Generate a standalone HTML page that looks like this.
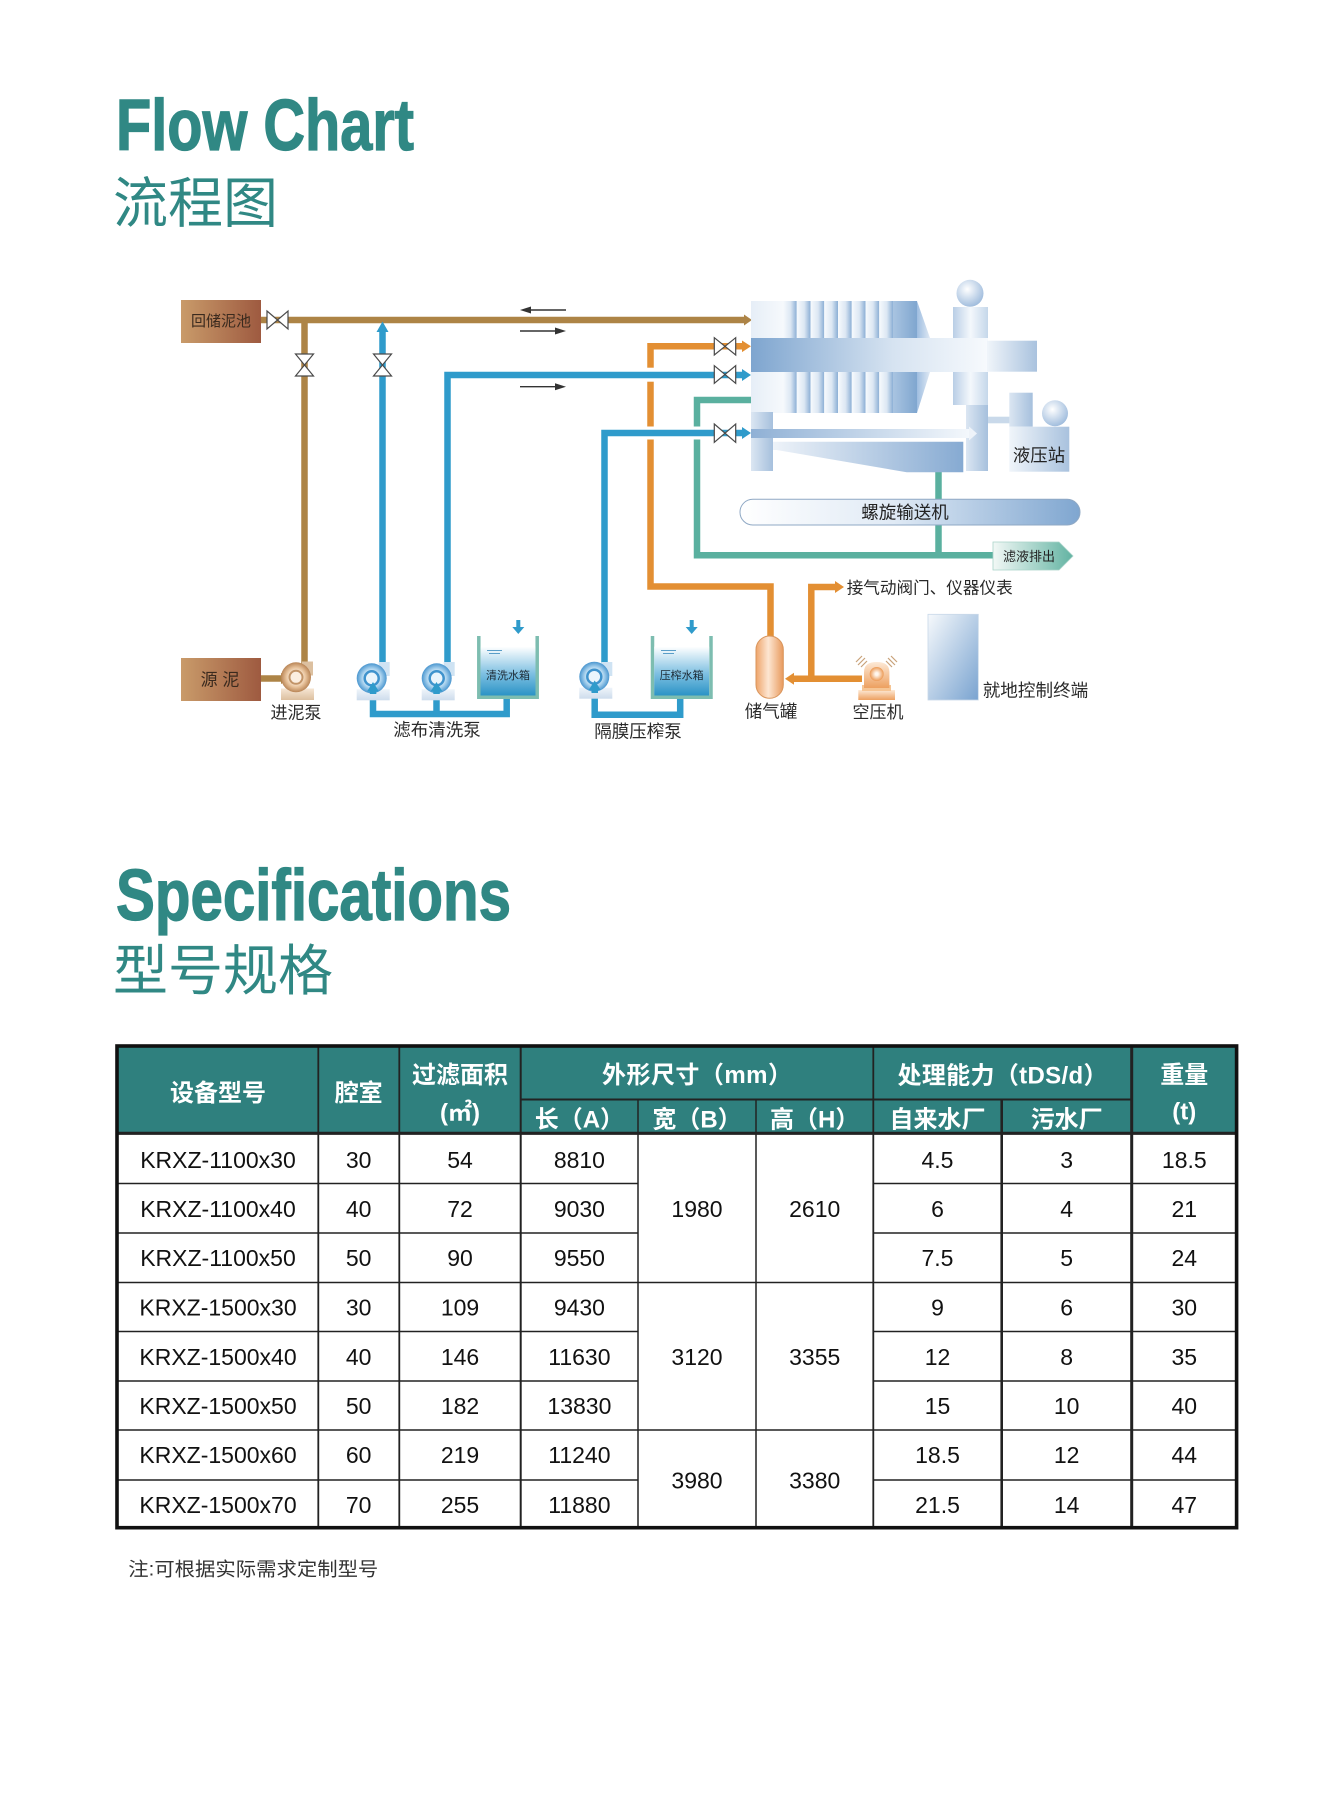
<!DOCTYPE html>
<html><head><meta charset="utf-8">
<style>
html,body{margin:0;padding:0;background:#fff;}
svg{display:block;}
.lat{font-family:"Liberation Sans",sans-serif;}
.cjk{font-family:"Liberation Sans","Noto Sans CJK SC","WenQuanYi Zen Hei",sans-serif;}
</style></head><body>
<svg width="1323" height="1795" viewBox="0 0 1323 1795" xmlns="http://www.w3.org/2000/svg">
<defs>
<linearGradient id="gBrownBox" x1="0" x2="1" y1="0" y2="0"><stop offset="0" stop-color="#c99b6a"/><stop offset="1" stop-color="#9e5a40"/></linearGradient>
<linearGradient id="gPlate" x1="0" x2="1"><stop offset="0" stop-color="#f7fafd"/><stop offset="0.55" stop-color="#dce7f3"/><stop offset="1" stop-color="#8cafd5"/></linearGradient>
<linearGradient id="gHead" x1="0" x2="1"><stop offset="0" stop-color="#e6eef7"/><stop offset="1" stop-color="#f6f9fc"/></linearGradient>
<linearGradient id="gDark" x1="0" x2="1"><stop offset="0" stop-color="#a9c4e1"/><stop offset="1" stop-color="#7fa6cf"/></linearGradient>
<linearGradient id="gSlant" x1="0" x2="1"><stop offset="0" stop-color="#9ebde0"/><stop offset="1" stop-color="#dfe9f4"/></linearGradient>
<linearGradient id="gBeam" x1="0" x2="1"><stop offset="0" stop-color="#7ea5cf"/><stop offset="0.6" stop-color="#d6e3f1"/><stop offset="1" stop-color="#f7fafd"/></linearGradient>
<linearGradient id="gExt" x1="0" x2="1"><stop offset="0" stop-color="#f0f5fa"/><stop offset="1" stop-color="#a9c2de"/></linearGradient>
<linearGradient id="gPillar" x1="0" x2="1"><stop offset="0" stop-color="#b9cee6"/><stop offset="0.5" stop-color="#f4f8fc"/><stop offset="1" stop-color="#c5d7ea"/></linearGradient>
<linearGradient id="gLeg" x1="0" x2="1"><stop offset="0" stop-color="#dbe6f2"/><stop offset="1" stop-color="#a6c0dd"/></linearGradient>
<radialGradient id="gBall" cx="0.4" cy="0.35" r="0.7"><stop offset="0" stop-color="#ffffff"/><stop offset="1" stop-color="#9bb9db"/></radialGradient>
<linearGradient id="gTray" x1="0" x2="1"><stop offset="0" stop-color="#eef3f9"/><stop offset="1" stop-color="#86aad2"/></linearGradient>
<linearGradient id="gFeed" x1="0" x2="1"><stop offset="0" stop-color="#8fb0d5"/><stop offset="1" stop-color="#f4f8fc"/></linearGradient>
<linearGradient id="gConv" x1="0" x2="1"><stop offset="0" stop-color="#ffffff"/><stop offset="0.45" stop-color="#e0eaf5"/><stop offset="1" stop-color="#7fa6d0"/></linearGradient>
<linearGradient id="gPanel" x1="0" y1="0" x2="1" y2="1"><stop offset="0" stop-color="#f6f9fc"/><stop offset="1" stop-color="#79a3d0"/></linearGradient>
<linearGradient id="gFiltrate" x1="0" x2="1"><stop offset="0" stop-color="#f2f8f6"/><stop offset="1" stop-color="#62b3a2"/></linearGradient>
<linearGradient id="gWater" x1="0" y1="0" x2="0" y2="1"><stop offset="0" stop-color="#ffffff"/><stop offset="0.55" stop-color="#7fc0e2"/><stop offset="1" stop-color="#2b93c6"/></linearGradient>
<radialGradient id="gPumpB" cx="0.5" cy="0.5" r="0.5"><stop offset="0.3" stop-color="#ffffff"/><stop offset="0.65" stop-color="#a9d2ee"/><stop offset="1" stop-color="#4a96cf"/></radialGradient>
<radialGradient id="gPumpBr" cx="0.5" cy="0.5" r="0.5"><stop offset="0.3" stop-color="#fff5ea"/><stop offset="0.65" stop-color="#e8c39c"/><stop offset="1" stop-color="#b98556"/></radialGradient>
<linearGradient id="gBase" x1="0" x2="0" y1="0" y2="1"><stop offset="0" stop-color="#eef4fa"/><stop offset="1" stop-color="#cddcec"/></linearGradient>
<linearGradient id="gBaseBr" x1="0" x2="0" y1="0" y2="1"><stop offset="0" stop-color="#f6e6d4"/><stop offset="1" stop-color="#dcbf9f"/></linearGradient>
<linearGradient id="gTank" x1="0" x2="1"><stop offset="0" stop-color="#eea46a"/><stop offset="0.45" stop-color="#fde6d2"/><stop offset="1" stop-color="#e89a5d"/></linearGradient>
<linearGradient id="gComp" x1="0" y1="0" x2="0" y2="1"><stop offset="0" stop-color="#fde9d6"/><stop offset="1" stop-color="#eda060"/></linearGradient>
<radialGradient id="gCompC" cx="0.5" cy="0.5" r="0.5"><stop offset="0.2" stop-color="#fff7ee"/><stop offset="1" stop-color="#ec9a55"/></radialGradient>
</defs>

<!-- Titles -->
<text class="lat" x="116" y="150" font-size="72" font-weight="bold" fill="#308884" stroke="#308884" stroke-width="1.3" textLength="298" lengthAdjust="spacingAndGlyphs">Flow Chart</text>
<text class="cjk" x="113" y="222.6" font-size="55" fill="#308884">流程图</text>
<text class="lat" x="116" y="920" font-size="72" font-weight="bold" fill="#308884" stroke="#308884" stroke-width="1.3" textLength="395" lengthAdjust="spacingAndGlyphs">Specifications</text>
<text class="cjk" x="113" y="990" font-size="55" fill="#308884">型号规格</text>

<!-- ============ FLOW CHART ============ -->
<rect x="181" y="300" width="80" height="43" fill="url(#gBrownBox)"/>
<text class="cjk" x="221" y="326.2" font-size="15" fill="#3a2a1e" text-anchor="middle">回储泥池</text>
<rect x="181" y="658" width="80" height="43" fill="url(#gBrownBox)"/>
<text class="cjk" x="220" y="685.5" font-size="17" fill="#3a2a1e" text-anchor="middle">源 泥</text>

<!-- brown pipes -->
<g stroke="#ad8446" stroke-width="6.5" fill="none">
<path d="M261,320 H745"/>
<path d="M304.5,320 V666"/>
<path d="M261,678.5 H282"/>
</g>
<g fill="#ad8446">
<polygon points="744,314.5 752,320 744,325.5"/>
<polygon points="281,673 290,678.5 281,684"/>
</g>

<!-- orange pipes -->
<g stroke="#e38f33" stroke-width="6.5" fill="none" stroke-linejoin="miter">
<path d="M770.5,637 V586.5 H650.5 V346.3 H743"/>
<path d="M862,678.8 H793"/>
<path d="M811.3,678.8 V587 H836"/>
</g>
<g fill="#e38f33">
<polygon points="742,340.5 751,346.3 742,352.1"/>
<polygon points="794,672.8 785,678.8 794,684.8"/>
<polygon points="835,581 844,587 835,593"/>
</g>

<!-- teal pipes -->
<g stroke="#5ab09f" stroke-width="6.5" fill="none">
<path d="M751,400 H697 V555.3 H993"/>
<path d="M938.5,471 V555.3"/>
</g>

<!-- gaps where blue crosses -->
<g fill="#ffffff">
<rect x="645" y="367.7" width="11" height="14"/>
<rect x="645" y="426.5" width="11" height="13"/>
<rect x="691.5" y="426.5" width="11" height="13"/>
</g>

<!-- blue pipes -->
<g stroke="#2f9bcb" stroke-width="6.5" fill="none" stroke-linejoin="miter">
<path d="M382.5,331 V664"/>
<path d="M447.5,664 V375 H743"/>
<path d="M604.5,664 V433 H743"/>
<path d="M373,691 V714 H506.7 V697"/>
<path d="M436.5,714 V691"/>
<path d="M594.7,690 V714.7 H680.2 V697"/>
</g>
<g fill="#2f9bcb">
<polygon points="376.5,332 382.5,321.5 388.5,332"/>
<polygon points="742,369 751,375 742,381"/>
<polygon points="742,427 751,433 742,439"/>
</g>

<!-- valves -->
<g fill="#ffffff" stroke="#4a4a4a" stroke-width="1.2">
<path d="M267,311 L288,329 L288,311 L267,329 Z"/>
<path d="M295.5,354 L313.5,354 L295.5,376 L313.5,376 Z"/>
<path d="M373.5,354 L391.5,354 L373.5,376 L391.5,376 Z"/>
<path d="M714.3,337.7 L735.7,355 L735.7,337.7 L714.3,355 Z"/>
<path d="M714.3,365.7 L735.7,383.3 L735.7,365.7 L714.3,383.3 Z"/>
<path d="M714.3,424 L735.7,442.3 L735.7,424 L714.3,442.3 Z"/>
</g>

<!-- thin direction arrows -->
<g stroke="#333" stroke-width="1.4" fill="none">
<path d="M528,310 H566"/>
<path d="M520,331 H558"/>
<path d="M520,386.7 H558"/>
</g>
<g fill="#333">
<polygon points="520,310 531,306.5 531,313.5"/>
<polygon points="566,331 555,327.5 555,334.5"/>
<polygon points="566,386.7 555,383.2 555,390.2"/>
</g>

<!-- ===== Filter press ===== -->
<rect x="953" y="307" width="35" height="98" fill="url(#gPillar)"/>
<circle cx="970" cy="293.3" r="13.5" fill="url(#gBall)"/>
<rect x="751" y="301" width="32" height="37" fill="url(#gHead)"/>
<g fill="url(#gPlate)">
<rect x="783" y="301" width="13.75" height="37"/>
<rect x="796.75" y="301" width="13.75" height="37"/>
<rect x="810.5" y="301" width="13.75" height="37"/>
<rect x="824.25" y="301" width="13.75" height="37"/>
<rect x="838" y="301" width="13.75" height="37"/>
<rect x="851.75" y="301" width="13.75" height="37"/>
<rect x="865.5" y="301" width="13.75" height="37"/>
<rect x="879.25" y="301" width="13.75" height="37"/>
</g>
<rect x="893" y="301" width="24" height="37" fill="url(#gDark)"/>
<polygon points="917,301 930,338 917,338" fill="url(#gSlant)"/>
<rect x="751" y="372" width="32" height="41" fill="url(#gHead)"/>
<g fill="url(#gPlate)">
<rect x="783" y="372" width="13.75" height="41"/>
<rect x="796.75" y="372" width="13.75" height="41"/>
<rect x="810.5" y="372" width="13.75" height="41"/>
<rect x="824.25" y="372" width="13.75" height="41"/>
<rect x="838" y="372" width="13.75" height="41"/>
<rect x="851.75" y="372" width="13.75" height="41"/>
<rect x="865.5" y="372" width="13.75" height="41"/>
<rect x="879.25" y="372" width="13.75" height="41"/>
</g>
<rect x="893" y="372" width="24" height="41" fill="url(#gDark)"/>
<polygon points="917,372 930,372 917,413" fill="url(#gSlant)"/>
<rect x="751" y="338" width="237" height="34" fill="url(#gBeam)"/>
<rect x="987" y="340.7" width="50" height="31" fill="url(#gExt)"/>
<rect x="751" y="412" width="22" height="59" fill="url(#gLeg)"/>
<rect x="966" y="405" width="22" height="66" fill="url(#gLeg)"/>
<rect x="751" y="429" width="219" height="9" fill="url(#gFeed)"/>
<polygon points="969,426.5 977,433.5 969,440.5" fill="#eef3f9"/>
<polygon points="773,441.7 963.3,441.7 963.3,472.3 906.7,472.3 776.7,450 773,450" fill="url(#gTray)"/>
<rect x="988" y="416.7" width="21.5" height="6.6" fill="#c9d9ea"/>
<rect x="1009.3" y="392.7" width="23.4" height="34" fill="url(#gLeg)"/>
<circle cx="1055" cy="413.3" r="13" fill="url(#gBall)"/>
<rect x="1009.3" y="426.7" width="60" height="45" fill="url(#gExt)"/>
<text class="cjk" x="1039" y="461.6" font-size="17.4" fill="#222" text-anchor="middle">液压站</text>

<!-- conveyor -->
<rect x="740" y="499.3" width="340" height="25.7" rx="12.8" fill="url(#gConv)" stroke="#8fa8c4" stroke-width="1"/>
<text class="cjk" x="905" y="518.7" font-size="17.5" fill="#222" text-anchor="middle">螺旋输送机</text>

<!-- filtrate outlet -->
<polygon points="993,542 1059,542 1073,556 1059,570 993,570" fill="url(#gFiltrate)" stroke="#a9d3c9" stroke-width="0.8"/>
<text class="cjk" x="1029" y="561" font-size="13" fill="#222" text-anchor="middle">滤液排出</text>

<!-- pumps -->
<rect x="281" y="688.5" width="33" height="11.5" fill="url(#gBaseBr)"/>
<rect x="302" y="661.5" width="11" height="14" fill="#dcc0a0"/>
<circle cx="296" cy="677.3" r="15" fill="url(#gPumpBr)"/>
<circle cx="296" cy="677.3" r="6.5" fill="#fbeee0" stroke="#c29468" stroke-width="2"/>
<rect x="356.7" y="689.3" width="33" height="11" fill="url(#gBase)"/>
<rect x="378.7" y="662" width="11" height="14" fill="#cfe3f3"/>
<circle cx="371.7" cy="678.3" r="15" fill="url(#gPumpB)"/>
<circle cx="371.7" cy="678.3" r="7" fill="#eaf5fc" stroke="#3f93cd" stroke-width="2.5"/>
<rect x="421.7" y="689.3" width="33" height="11" fill="url(#gBase)"/>
<rect x="443.7" y="662" width="11" height="14" fill="#cfe3f3"/>
<circle cx="436.7" cy="678.3" r="15" fill="url(#gPumpB)"/>
<circle cx="436.7" cy="678.3" r="7" fill="#eaf5fc" stroke="#3f93cd" stroke-width="2.5"/>
<rect x="579.3" y="687.7" width="33" height="11" fill="url(#gBase)"/>
<rect x="601.3" y="662" width="11" height="14" fill="#cfe3f3"/>
<circle cx="594.3" cy="676.7" r="15" fill="url(#gPumpB)"/>
<circle cx="594.3" cy="676.7" r="7" fill="#eaf5fc" stroke="#3f93cd" stroke-width="2.5"/>
<g fill="#2f9bcb">
<rect x="369.8" y="688" width="6.5" height="6"/>
<rect x="433.3" y="688" width="6.5" height="6"/>
<rect x="591.5" y="687" width="6.5" height="6"/>
<polygon points="367,691.5 373,682 379,691.5"/>
<polygon points="430.5,691.5 436.5,682 442.5,691.5"/>
<polygon points="588.7,690 594.7,680.5 600.7,690"/>
</g>

<!-- water tanks -->
<path d="M478.8,636 V697.3 H537.2 V636" fill="none" stroke="#7dbdb0" stroke-width="3.5"/>
<rect x="480.5" y="646.7" width="55" height="48.8" fill="url(#gWater)"/>
<path d="M487,650.5 H502 M489,653.5 H500" stroke="#5a9ec8" stroke-width="1"/>
<text class="cjk" x="508" y="679.2" font-size="11" fill="#1d2b36" text-anchor="middle">清洗水箱</text>
<rect x="516.3" y="620" width="4" height="8" fill="#2f9bcb"/>
<polygon points="512.3,627 524.3,627 518.3,634" fill="#2f9bcb"/>

<path d="M652.5,636 V697.3 H711 V636" fill="none" stroke="#7dbdb0" stroke-width="3.5"/>
<rect x="654.2" y="646.7" width="55" height="48.8" fill="url(#gWater)"/>
<path d="M661,650.5 H676 M663,653.5 H674" stroke="#5a9ec8" stroke-width="1"/>
<text class="cjk" x="681.7" y="679.2" font-size="11" fill="#1d2b36" text-anchor="middle">压榨水箱</text>
<rect x="689.7" y="620" width="4" height="8" fill="#2f9bcb"/>
<polygon points="685.7,627 697.7,627 691.7,634" fill="#2f9bcb"/>

<!-- air tank -->
<rect x="756" y="636" width="27.3" height="62.3" rx="13.6" fill="url(#gTank)" stroke="#d9955c" stroke-width="1"/>

<!-- compressor -->
<rect x="858.3" y="690" width="36.7" height="10" fill="url(#gComp)"/>
<rect x="862" y="685" width="29" height="6" fill="#f6c594"/>
<path d="M864,688 L864,672 Q864,662 876.7,662 Q889.4,662 889.4,672 L889.4,688 Z" fill="url(#gComp)"/>
<circle cx="876.7" cy="674" r="7" fill="url(#gCompC)"/>
<g stroke="#c9a27a" stroke-width="1.2">
<path d="M856,662 L862,656 M858,665 L865,658 M861,667 L867,661"/>
<path d="M897,662 L891,656 M895,665 L888,658 M892,667 L886,661"/>
</g>

<!-- control panel -->
<rect x="928" y="614.3" width="50.3" height="85.7" fill="url(#gPanel)" stroke="#c8d8e8" stroke-width="0.8"/>

<!-- labels -->
<g class="cjk" fill="#2a2a2a" text-anchor="middle">
<text x="296" y="718.5" font-size="17">进泥泵</text>
<text x="437" y="736.2" font-size="17.5">滤布清洗泵</text>
<text x="638" y="737.6" font-size="17.5">隔膜压榨泵</text>
<text x="771" y="717.7" font-size="17.5">储气罐</text>
<text x="878" y="718.2" font-size="17">空压机</text>
</g>
<text class="cjk" x="846.7" y="593.3" font-size="16.7" fill="#2a2a2a" textLength="166" lengthAdjust="spacingAndGlyphs">接气动阀门、仪器仪表</text>
<text class="cjk" x="982.7" y="696.7" font-size="17.6" fill="#2a2a2a" textLength="105.6" lengthAdjust="spacingAndGlyphs">就地控制终端</text>

<!-- ============ TABLE ============ -->
<rect x="117" y="1046" width="1119.6" height="88" fill="#2f807e"/>
<g stroke="#222" fill="none">
<path stroke-width="1.6" d="M117,1183.5 H638 M873.3,1183.5 H1236.6"/>
<path stroke-width="1.6" d="M117,1233 H638 M873.3,1233 H1236.6"/>
<path stroke-width="1.6" d="M117,1282.5 H1236.6"/>
<path stroke-width="1.6" d="M117,1331.5 H638 M873.3,1331.5 H1236.6"/>
<path stroke-width="1.6" d="M117,1381 H638 M873.3,1381 H1236.6"/>
<path stroke-width="1.6" d="M117,1430 H1236.6"/>
<path stroke-width="1.6" d="M117,1480 H638 M873.3,1480 H1236.6"/>
<path stroke-width="2" d="M520.7,1099.5 H1131.7"/>
<path stroke-width="3.2" d="M117,1133.3 H1236.6"/>
<path stroke-width="1.8" d="M318.3,1046 V1527.7"/>
<path stroke-width="1.8" d="M399.3,1046 V1527.7"/>
<path stroke-width="2" d="M520.7,1046 V1527.7"/>
<path stroke-width="1.5" d="M638,1099.5 V1527.7"/>
<path stroke-width="1.5" d="M756,1099.5 V1527.7"/>
<path stroke-width="1.8" d="M873.3,1046 V1527.7"/>
<path stroke-width="2.6" d="M1001.7,1099.5 V1527.7"/>
<path stroke-width="3" d="M1131.7,1046 V1527.7"/>
<rect x="117" y="1046" width="1119.6" height="481.7" stroke="#111" stroke-width="3.6"/>
</g>

<g class="cjk" fill="#ffffff" font-weight="bold" font-size="24" text-anchor="middle">
<text x="218" y="1100.8">设备型号</text>
<text x="358.7" y="1100.8">腔室</text>
<text x="460" y="1082.9">过滤面积</text>
<text x="460" y="1120.5">(㎡)</text>
<text x="697" y="1083.1" textLength="190" lengthAdjust="spacing">外形尺寸（mm）</text>
<text x="1002.5" y="1083.4" textLength="210" lengthAdjust="spacing">处理能力（tDS/d）</text>
<text x="1184.3" y="1083.1">重量</text>
<text x="1184.3" y="1119.5">(t)</text>
<text x="579.4" y="1127.6">长（A）</text>
<text x="697" y="1127.6">宽（B）</text>
<text x="814.7" y="1127.6">高（H）</text>
<text x="937.5" y="1127.6">自来水厂</text>
<text x="1066.7" y="1127.6">污水厂</text>
</g>

<g class="lat" fill="#111" font-size="23" text-anchor="middle">
<text x="218" y="1168">KRXZ-1100x30</text><text x="358.7" y="1168">30</text><text x="460" y="1168">54</text><text x="579.4" y="1168">8810</text><text x="937.5" y="1168">4.5</text><text x="1066.7" y="1168">3</text><text x="1184.3" y="1168">18.5</text>
<text x="218" y="1217.1">KRXZ-1100x40</text><text x="358.7" y="1217.1">40</text><text x="460" y="1217.1">72</text><text x="579.4" y="1217.1">9030</text><text x="937.5" y="1217.1">6</text><text x="1066.7" y="1217.1">4</text><text x="1184.3" y="1217.1">21</text>
<text x="218" y="1266.2">KRXZ-1100x50</text><text x="358.7" y="1266.2">50</text><text x="460" y="1266.2">90</text><text x="579.4" y="1266.2">9550</text><text x="937.5" y="1266.2">7.5</text><text x="1066.7" y="1266.2">5</text><text x="1184.3" y="1266.2">24</text>
<text x="218" y="1315.3">KRXZ-1500x30</text><text x="358.7" y="1315.3">30</text><text x="460" y="1315.3">109</text><text x="579.4" y="1315.3">9430</text><text x="937.5" y="1315.3">9</text><text x="1066.7" y="1315.3">6</text><text x="1184.3" y="1315.3">30</text>
<text x="218" y="1364.9">KRXZ-1500x40</text><text x="358.7" y="1364.9">40</text><text x="460" y="1364.9">146</text><text x="579.4" y="1364.9">11630</text><text x="937.5" y="1364.9">12</text><text x="1066.7" y="1364.9">8</text><text x="1184.3" y="1364.9">35</text>
<text x="218" y="1414">KRXZ-1500x50</text><text x="358.7" y="1414">50</text><text x="460" y="1414">182</text><text x="579.4" y="1414">13830</text><text x="937.5" y="1414">15</text><text x="1066.7" y="1414">10</text><text x="1184.3" y="1414">40</text>
<text x="218" y="1463.1">KRXZ-1500x60</text><text x="358.7" y="1463.1">60</text><text x="460" y="1463.1">219</text><text x="579.4" y="1463.1">11240</text><text x="937.5" y="1463.1">18.5</text><text x="1066.7" y="1463.1">12</text><text x="1184.3" y="1463.1">44</text>
<text x="218" y="1512.8">KRXZ-1500x70</text><text x="358.7" y="1512.8">70</text><text x="460" y="1512.8">255</text><text x="579.4" y="1512.8">11880</text><text x="937.5" y="1512.8">21.5</text><text x="1066.7" y="1512.8">14</text><text x="1184.3" y="1512.8">47</text>
<text x="697" y="1217.1">1980</text><text x="814.7" y="1217.1">2610</text>
<text x="697" y="1364.9">3120</text><text x="814.7" y="1364.9">3355</text>
<text x="697" y="1488.3">3980</text><text x="814.7" y="1488.3">3380</text>
</g>

<text class="cjk" x="128.3" y="1575.5" font-size="19" fill="#333" textLength="250" lengthAdjust="spacingAndGlyphs">注:可根据实际需求定制型号</text>
</svg>
</body></html>
